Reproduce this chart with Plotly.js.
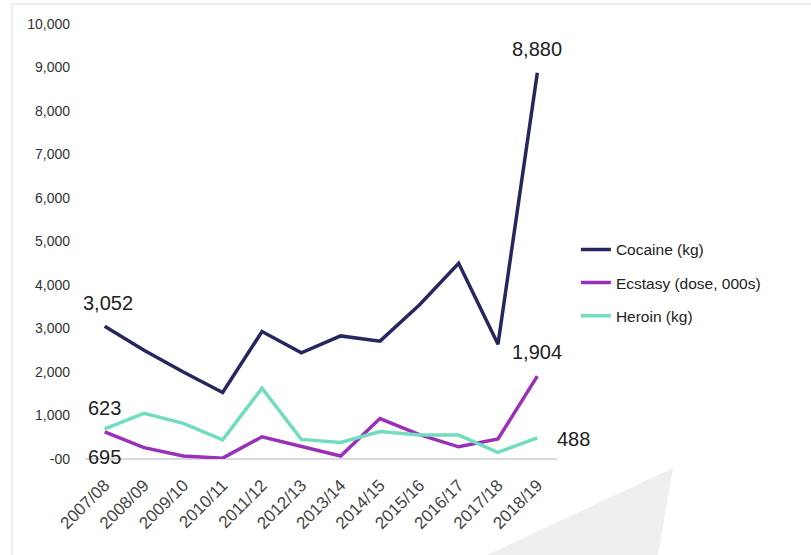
<!DOCTYPE html>
<html>
<head>
<meta charset="utf-8">
<script src="https://cdn.plot.ly/plotly-3.0.1.min.js"></script>
<style>html,body{margin:0;padding:0;background:#fff;}#chart{width:811px;height:555px;}</style>
</head>
<body>
<div id="chart"></div>
<script>
const years = ["2007/08","2008/09","2009/10","2010/11","2011/12","2012/13","2013/14","2014/15","2015/16","2016/17","2017/18","2018/19"];
const cocaine = [3052, 2500, 2000, 1530, 2930, 2440, 2830, 2710, 3540, 4500, 2640, 8880];
const ecstasy = [623, 260, 70, 20, 510, 300, 70, 930, 560, 280, 460, 1904];
const heroin  = [695, 1050, 820, 440, 1630, 450, 380, 630, 550, 550, 150, 488];
const yTickVals = [0,1000,2000,3000,4000,5000,6000,7000,8000,9000,10000];
const yTickText = ["-00","1,000","2,000","3,000","4,000","5,000","6,000","7,000","8,000","9,000","10,000"];

const font = "Liberation Sans, Arial, Helvetica, sans-serif";
const mk = (name, y, color) => ({
  type: "scatter", mode: "lines", name: name, x: years, y: y,
  line: {color: color, width: 3.5}, legendgroup: name, hoverinfo: "none"
});
const traces = [
  mk("Cocaine (kg)", cocaine, "#27275f"),
  mk("Ecstasy (dose, 000s)", ecstasy, "#9a2fb9"),
  mk("Heroin (kg)", heroin, "#72dcc0")
];
const last = years.length - 1;
const ann = (x, y, text, xs, ys) => ({x: x, y: y, text: text, showarrow: false, xshift: xs, yshift: ys,
  font: {family: font, size: 20, color: "#222"}});
const annotations = [
  ann(years[0], cocaine[0], "3,052", 3, 23),
  ann(years[last], cocaine[last], "8,880", 0, 24),
  ann(years[last], ecstasy[last], "1,904", 0, 24),
  ann(years[last], heroin[last], "488", 36, -1),
  ann(years[0], heroin[0], "623", 0, 21),
  ann(years[0], ecstasy[0], "695", 0, -25)
];
const layout = {
  width: 811, height: 555,
  margin: {l: 85, r: 254, t: 24, b: 96},
  paper_bgcolor: "#fff", plot_bgcolor: "#fff",
  font: {family: font, color: "#333"},
  showlegend: true,
  legend: {x: 1.04, y: 0.405, xanchor: "left", yanchor: "middle", traceorder: "grouped", tracegroupgap: 10,
    font: {family: font, size: 15.5, color: "#222"}, bgcolor: "rgba(0,0,0,0)"},
  xaxis: {type: "category", range: [-0.5, 11.5], tickangle: -45, showgrid: false, showline: false,
    zeroline: false, ticks: "", ticklabelstandoff: 12, tickfont: {family: font, size: 17, color: "#444"}, fixedrange: true},
  yaxis: {range: [0, 10000], tickvals: yTickVals, ticktext: yTickText, showgrid: false, showline: false,
    zeroline: true, zerolinecolor: "#d9d9d9", zerolinewidth: 1.5, ticks: "", ticklabelstandoff: 14,
    tickfont: {family: font, size: 14, color: "#333"}, fixedrange: true},
  annotations: annotations
};
const fig = document.getElementById("chart");
Plotly.newPlot(fig, traces, layout, {displayModeBar: false, staticPlot: true}).then(() => {
  const svg = fig.querySelector("svg.main-svg");
  const ns = "http://www.w3.org/2000/svg";
  const g = document.createElementNS(ns, "g");
  const poly = document.createElementNS(ns, "polygon");
  poly.setAttribute("points", "673,468 487,555 658,555");
  poly.setAttribute("fill", "#efefef");
  g.appendChild(poly);
  const l1 = document.createElementNS(ns, "line");
  l1.setAttribute("x1", 12); l1.setAttribute("y1", 4); l1.setAttribute("x2", 811); l1.setAttribute("y2", 4);
  l1.setAttribute("stroke", "#dddddd"); l1.setAttribute("stroke-width", 1);
  g.appendChild(l1);
  const l2 = document.createElementNS(ns, "line");
  l2.setAttribute("x1", 12); l2.setAttribute("y1", 4); l2.setAttribute("x2", 12); l2.setAttribute("y2", 555);
  l2.setAttribute("stroke", "#dddddd"); l2.setAttribute("stroke-width", 1);
  g.appendChild(l2);
  svg.insertBefore(g, svg.children[1]);
});
</script>
</body>
</html>
